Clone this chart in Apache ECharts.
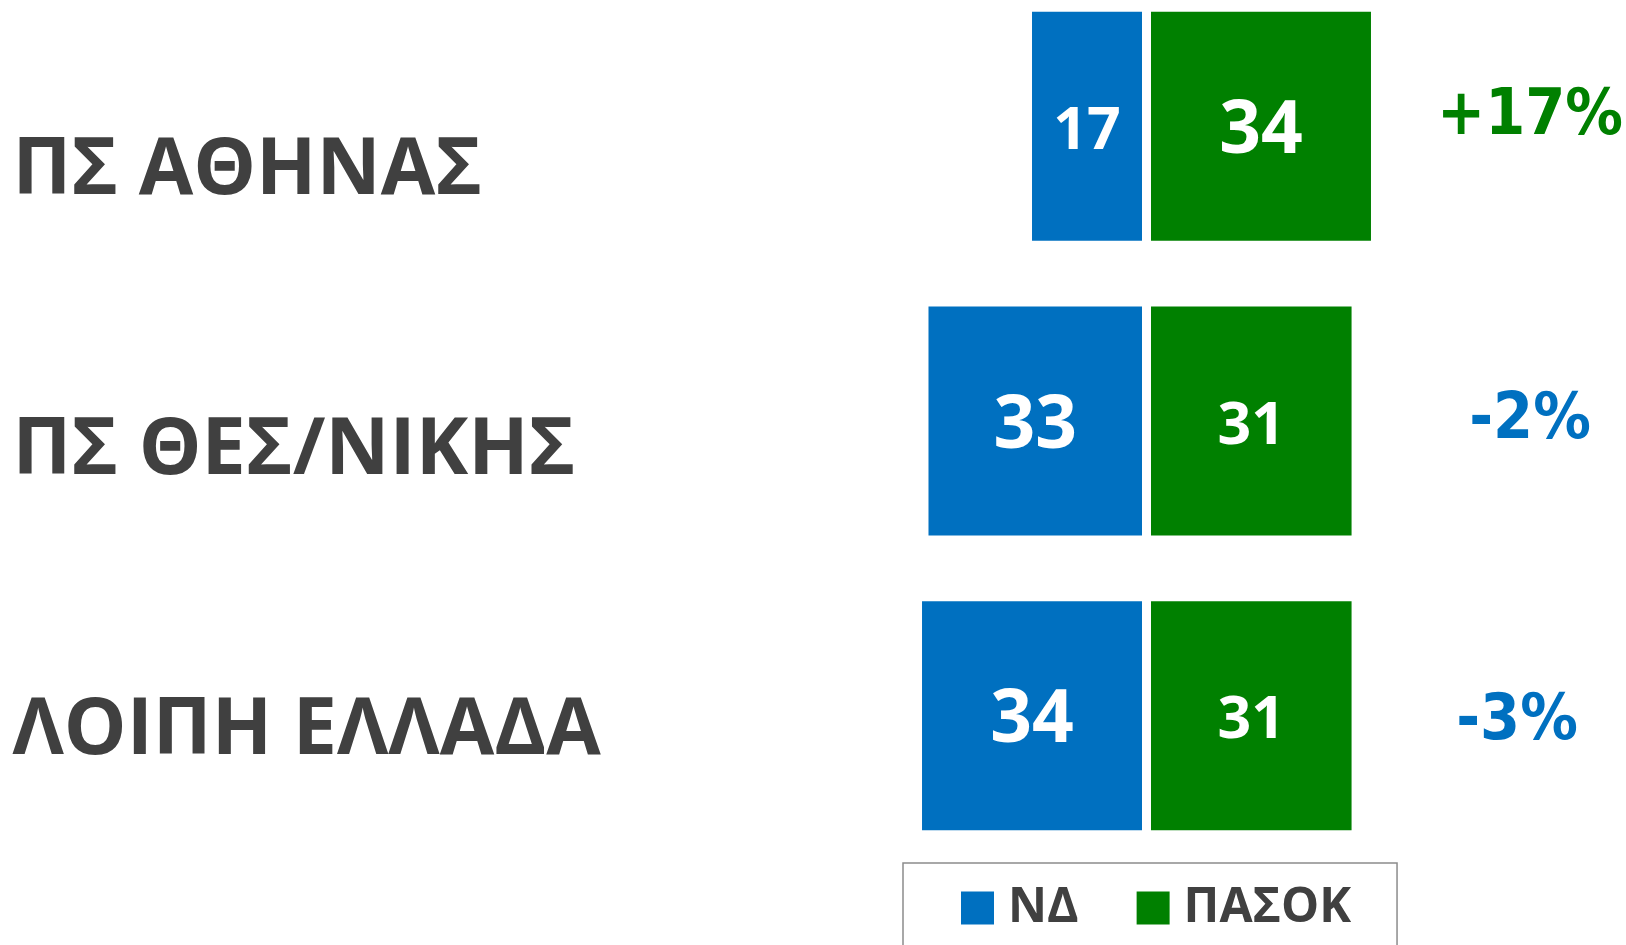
<!DOCTYPE html>
<html>
<head>
<meta charset="utf-8">
<title>ΝΔ - ΠΑΣΟΚ</title>
<script src="https://cdn.jsdelivr.net/npm/echarts@6/dist/echarts.min.js"></script>
<style>
  html, body { margin: 0; padding: 0; background: #fff; }
  #chart { width: 1626px; height: 945px; }
</style>
</head>
<body>
<div id="chart"></div>
<script>
  // δεδομένα
  var categories = ['ΠΣ ΑΘΗΝΑΣ', 'ΠΣ ΘΕΣ/ΝΙΚΗΣ', 'ΛΟΙΠΗ ΕΛΛΑΔΑ']
  var ndValues = [17, 33, 34]
  var pasokValues = [34, 31, 31]
  var diffLabels = ['+17%', '-2%', '-3%']

  var BLUE = '#0070C0'
  var GREEN = '#008000'
  var GREY = '#404040'

  var chart = echarts.init(document.getElementById('chart'))

  // μεγαλύτερη γραμματοσειρά για την τιμή που κερδίζει στη γραμμή
  function barLabel (mine, other) {
    return function (p) {
      var key = mine[p.dataIndex] > other[p.dataIndex] ? 'big' : 'small'
      return '{' + key + '|' + p.value + '}'
    }
  }

  var barRich = {
    big: { fontSize: 73, fontWeight: 'bold', color: '#fff', fontFamily: 'Open Sans', padding: [12, 0, 0, 0] },
    small: { fontSize: 59, fontWeight: 'bold', color: '#fff', fontFamily: 'Open Sans', padding: [12, 0, 0, 0] }
  }

  // μετατοπίσεις κειμένων ανά γραμμή
  var catRich = {
    c0: { padding: [90, 0, 0, 0] },
    c1: { padding: [60, 0, 0, 0] },
    c2: { padding: [32, 0, 0, 0] }
  }
  var diffRich = {
    d0: { padding: [0, 0, 18, 0], color: GREEN },
    d1: { padding: [0, 0, 0, 0], color: BLUE },
    d2: { padding: [13, 26, 0, 0], color: BLUE }
  }

  chart.setOption({
    animation: false,
    legend: {
      left: 903,
      top: 863,
      padding: [21, 46, 40, 58],
      borderColor: '#8c8c8c',
      borderWidth: 1.5,
      itemWidth: 33,
      itemHeight: 33,
      itemGap: 58,
      icon: 'rect',
      data: ['ΝΔ', 'ΠΑΣΟΚ'],
      formatter: function (name) { return '{t|' + name + '}' },
      textStyle: {
        rich: {
          t: { fontSize: 48, fontWeight: 'bold', color: GREY, fontFamily: 'Open Sans', lineHeight: 33, padding: [0, 0, 0, 9] }
        }
      }
    },
    grid: [
      { left: 818.5, width: 323.5, top: -21, height: 884, outerBoundsMode: 'none' },
      { left: 1151, width: 323.5, top: -21, height: 884, outerBoundsMode: 'none' }
    ],
    xAxis: [
      { gridIndex: 0, type: 'value', min: 0, max: 50, inverse: true, show: false },
      { gridIndex: 1, type: 'value', min: 0, max: 50, show: false }
    ],
    yAxis: [
      {
        gridIndex: 0,
        type: 'category',
        data: categories,
        inverse: true,
        position: 'left',
        axisLine: { show: false, onZero: false },
        axisTick: { show: false },
        axisLabel: {
          interval: 0,
          align: 'left',
          margin: 806,
          fontSize: 79,
          fontWeight: 'bold',
          fontFamily: 'Open Sans',
          color: GREY,
          formatter: function (v, i) { return '{c' + i + '|' + v + '}' },
          rich: catRich
        }
      },
      {
        gridIndex: 1,
        type: 'category',
        data: categories,
        inverse: true,
        position: 'right',
        axisLine: { show: false, onZero: false },
        axisTick: { show: false },
        axisLabel: {
          interval: 0,
          align: 'center',
          margin: 55.5,
          fontSize: 64,
          fontWeight: 'bold',
          fontFamily: 'DejaVu Sans Condensed',
          formatter: function (v, i) { return '{d' + i + '|' + diffLabels[i] + '}' },
          rich: diffRich
        }
      }
    ],
    series: [
      {
        name: 'ΝΔ',
        type: 'bar',
        xAxisIndex: 0,
        yAxisIndex: 0,
        barWidth: 229,
        itemStyle: { color: BLUE },
        label: { show: true, position: 'inside', formatter: barLabel(ndValues, pasokValues), rich: barRich },
        data: ndValues
      },
      {
        name: 'ΠΑΣΟΚ',
        type: 'bar',
        xAxisIndex: 1,
        yAxisIndex: 1,
        barWidth: 229,
        itemStyle: { color: GREEN },
        label: { show: true, position: 'inside', formatter: barLabel(pasokValues, ndValues), rich: barRich },
        data: pasokValues
      }
    ]
  })
</script>
</body>
</html>
